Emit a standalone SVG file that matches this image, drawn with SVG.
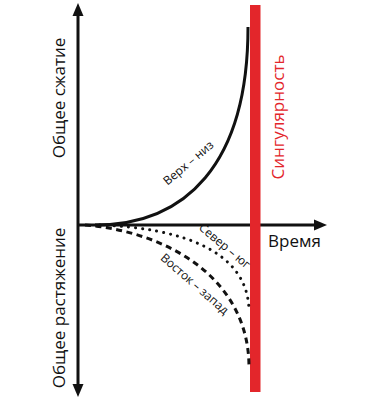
<svg xmlns="http://www.w3.org/2000/svg" width="368" height="400" viewBox="0 0 368 400">
<style>
.ax{stroke:#111;stroke-width:3;fill:none}
.ah{fill:#111}
.cv{stroke:#111;stroke-width:3;fill:none}
.lbl{font-family:"Open Sans","Liberation Sans",sans-serif;fill:#111}
.big{font-size:17px}
.sm{font-size:12px}
</style>
<rect width="368" height="400" fill="#fff"/>
<g id="axes">
<line class="ax" x1="78" y1="12" x2="78" y2="388"/>
<polygon class="ah" points="78,3 72.5,16 83.5,16"/>
<polygon class="ah" points="78,397 72.5,384 83.5,384"/>
<line class="ax" x1="78" y1="225" x2="316" y2="225"/>
<polygon class="ah" points="327,225 314,219.5 314,230.5"/>
</g>
<g id="singularity">
<rect x="250" y="5" width="10.5" height="387" fill="#e3262b"/>
<text class="lbl big" style="fill:#e3262b" text-anchor="middle" transform="translate(284,117) rotate(-90)">Сингулярность</text>
</g>
<g id="curves">
<path class="cv" d="M95,225 C185,225 248,165 248,27"/>
<path class="cv" d="M100,225 C180,228 249,250 249,312" stroke-dasharray="0.1 7" stroke-linecap="round"/>
<path class="cv" d="M85,225 C170,232 249,280 249,367" stroke-dasharray="6 4.5"/>
</g>
<g id="labels">
<text class="lbl big" text-anchor="middle" transform="translate(65,98) rotate(-90)">Общее сжатие</text>
<text class="lbl big" text-anchor="middle" transform="translate(65,308) rotate(-90)">Общее растяжение</text>
<text class="lbl big" x="268" y="247">Время</text>
<text class="lbl sm" text-anchor="middle" transform="translate(191,166) rotate(-40)">Верх – низ</text>
<text class="lbl sm" text-anchor="middle" transform="translate(222,249) rotate(40)">Север – юг</text>
<text class="lbl sm" text-anchor="middle" transform="translate(192,287) rotate(41)">Восток – запад</text>
</g>
</svg>
